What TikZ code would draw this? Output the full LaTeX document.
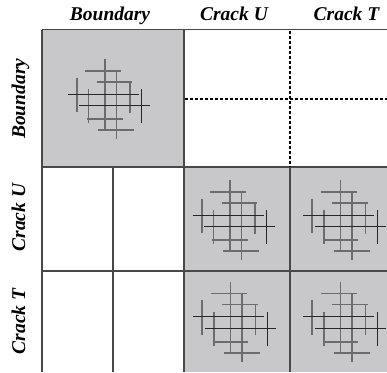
\documentclass[tikz,border=0pt]{standalone}
\usepackage{fontspec}
\setmainfont{Liberation Serif}
\definecolor{cellgray}{HTML}{C8C8CA}
\definecolor{gridgray}{HTML}{484848}
\definecolor{crackgray}{HTML}{6C6C6C}
\tikzset{
  grid line/.style={draw=gridgray, line width=1.1pt},
  split line/.style={draw=black, line width=1.6pt, dash pattern=on 3pt off 2pt},
  lbl/.style={font=\fontsize{19.5}{19.5}\selectfont\bfseries\itshape, inner sep=0pt},
  crack/.style={draw=crackgray, line width=1.6pt},
  crack dark/.style={draw=black!85, line width=1pt},
  pics/crackset/.style={code={
    % horizontal cracks
    \draw[crack] (-20,-23.3) -- (16,-23.3);
    \draw[crack] (-8.3,-12.3) -- (27.3,-12.3);
    \draw[crack] (-17.7,25) -- (17.7,25);
    \draw[crack] (-6.7,36) -- (29.3,36);
    % vertical cracks
    \draw[crack] (-28.3,-16.3) -- (-28.3,18.3);
    \draw[crack] (-16.7,-5) -- (-16.7,29.3);
    \draw[crack] (0,-34.7) -- (0,35.3);
    \draw[crack] (11.3,-23.3) -- (11.3,45.3);
    \draw[crack] (25,-12.3) -- (25,18.7);
    % the darker, thinner cracks on top
    \draw[crack dark] (-37.3,0) -- (33.7,0);
    \draw[crack dark] (-26,11.7) -- (45,11.7);
    \draw[crack dark] (36.7,-5) -- (36.7,29.3);
  }}
}
\begin{document}
\begin{tikzpicture}[x=1pt, y=-1pt]
  \useasboundingbox (0,0) rectangle (387,372);
  % shaded blocks
  \fill[cellgray] (42,29.5) rectangle (184,167);
  \fill[cellgray] (184,167) rectangle (387,372);
  % crack patterns
  \pic at (105,94) {crackset};
  \pic at (230,215) {crackset};
  \pic at (340.5,215) {crackset};
  \pic at (230.5,316.7) {crackset};
  \pic at (340.5,316.7) {crackset};
  % grid
  \draw[grid line] (42,29.5) -- (387,29.5);
  \draw[grid line] (42,167) -- (387,167);
  \draw[grid line] (42,271) -- (387,271);
  \draw[grid line] (42,29.5) -- (42,372);
  \draw[grid line] (113,167) -- (113,372);
  \draw[grid line] (184,29.5) -- (184,372);
  \draw[grid line] (290,167) -- (290,372);
  % dashed split of the upper right block
  \draw[split line] (290,30.5) -- (290,166);
  \draw[split line] (185,99) -- (387,99);
  % column headings
  \node[lbl, anchor=base] (hb) at (110,20) {Boundary};
  \node[lbl, anchor=base] (hu) at (234,20) {Crack U};
  \node[lbl, anchor=base] (ht) at (346.5,20) {Crack T};
  % row headings
  \node[lbl, rotate=90, anchor=base] (rb) at (25,98.7) {Boundary};
  \node[lbl, rotate=90, anchor=base] (ru) at (25,217.5) {Crack U};
  \node[lbl, rotate=90, anchor=base] (rt) at (25,321.5) {Crack T};
\end{tikzpicture}
\end{document}
